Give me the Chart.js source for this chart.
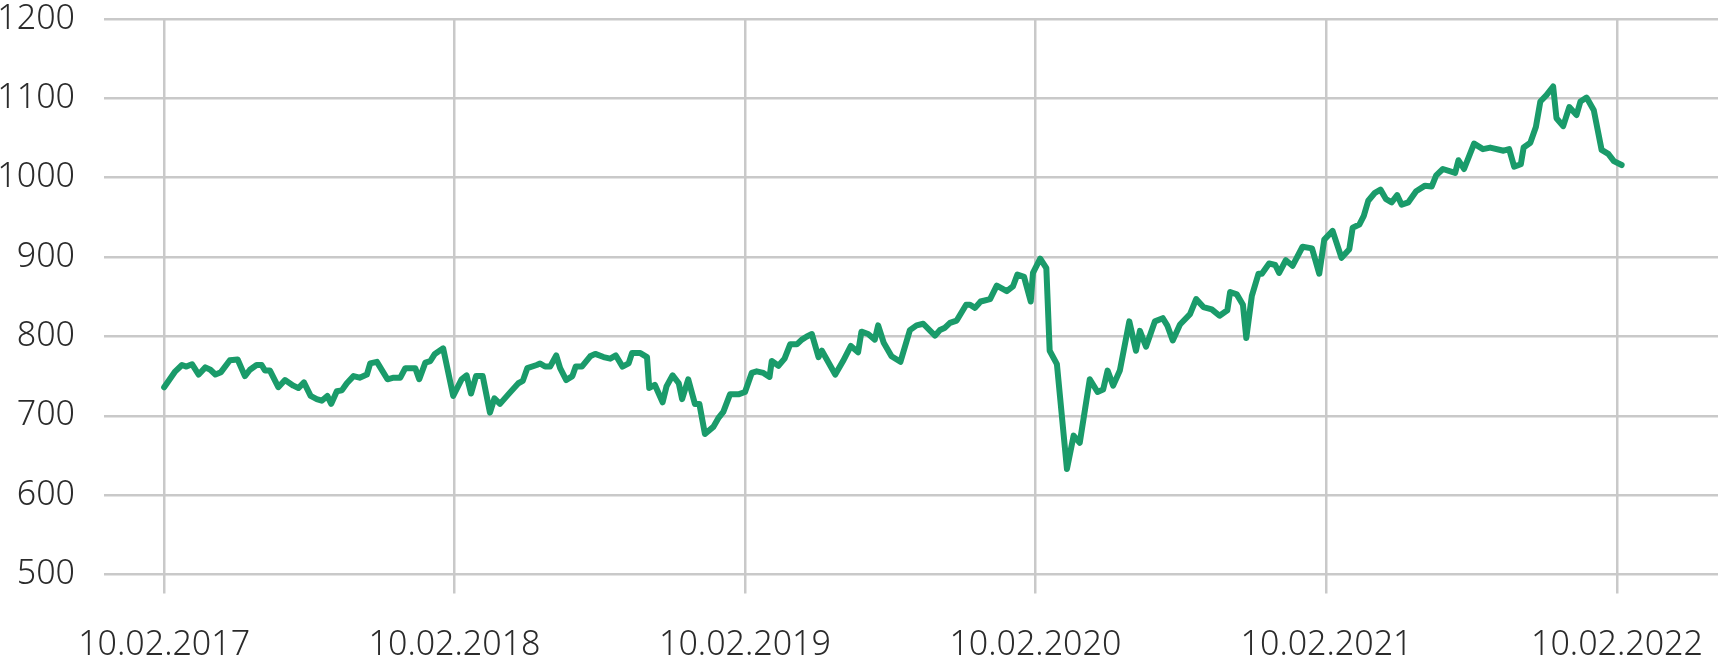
<!DOCTYPE html>
<html>
<head>
<meta charset="utf-8">
<script src="https://cdn.jsdelivr.net/npm/chart.js@4.4.0/dist/chart.umd.min.js"></script>
<style>
  html, body { margin: 0; padding: 0; background: #fff; }
  #wrap { width: 1718px; height: 658px; position: relative; }
</style>
</head>
<body>
<div id="wrap"><canvas id="priceChart"></canvas></div>
<script>
// weeks since 10.02.2017
const weeks = [
  0, 2, 3.2, 4, 5, 6.2, 7.4, 8.3, 9.2, 10.2, 11.8, 13.2, 14.5, 15.4, 16.6, 17.5, 18.1, 19, 20.5, 21.7,
  23.2, 24.1, 25.1, 26.3, 27.4, 28.3, 29.3, 30, 31, 31.9, 32.8, 34, 35.1, 36.4, 37, 38.2, 40.1, 41.2, 42.4, 43.3,
  45.1, 45.8, 46.9, 47.8, 48.6, 50.1,
  51.9, 53.4, 54.3, 55.1, 56, 57.2, 58.5, 59.3, 60.3, 61.8, 63.6, 64.4, 65.2, 66.9, 67.5, 68.4, 69.3, 70.4, 71.1, 72.2,
  73.3, 73.9, 75, 76.5, 77.4, 78.9, 80.1, 81.1, 82.3, 83.4, 84, 85.5, 86.7, 87.1, 88.1, 89.5, 90.2, 91.3, 92.4, 93,
  94.1, 95.3, 96.1, 97.1, 98.6, 99.5, 100.4, 101.6, 103.1, 104.3,
  105.5, 106.4, 107.6, 108.7, 109.1, 110.3, 111.4, 112.4, 113.6, 114.5, 115.4, 116.3, 117.5, 118.1, 120.5, 121.9,
  123.3, 124.6, 125.2, 126.4, 127.6, 128.2, 129.2, 130.6, 132.2, 133.9, 135.1, 136.3, 138.4, 139.3, 140.2, 141.1,
  142.3, 144, 144.7, 145.6, 146.6, 148.3, 149.5, 151.3, 152.4, 153.2, 154.4, 155.6, 156, 157.3, 158.4,
  159, 160.3, 162.1, 163.3, 164.4, 166.2, 167.6, 168.6, 169.4, 170.4, 171.6, 173.3, 174.5, 175.2, 176.3, 177.9,
  179.3, 180.1, 181.1, 182.4, 184.2, 185.3, 186.6, 188.1, 189.5, 190.9, 191.4, 192.6, 193.7, 194.3, 195.3, 196.5,
  197.1, 198.4, 199.5, 200.2, 201.4, 202.6, 204.4, 206.1, 207.4,
  208.3, 209.8, 211.4, 212.8, 213.4, 214.6, 215.4, 216.2, 217.4, 218.4, 219.4, 220.4, 221.4, 222.2, 223.4, 224.8,
  226.4, 227.6, 228.4, 229.6, 231.8, 232.4, 233.4, 235.2, 236.8, 238.1, 240.5, 241.5, 242.4, 243.6, 244.1, 245.3,
  246.3, 247.1, 248.2, 249.4, 250, 251.2, 252.3, 253.6, 254.3, 255.4, 256.7, 258.1, 259.3, 260.3, 261.7
];
const values = [
  736, 756, 764, 762, 765, 752, 761, 758, 752, 755, 770, 771, 750, 758, 764, 764, 757, 757, 736, 745,
  738, 735, 742, 725, 721, 719, 725, 715, 731, 732, 741, 750, 748, 752, 766, 768, 746, 748, 748, 760,
  760, 746, 767, 769, 778, 785,
  725, 746, 751, 728, 750, 750, 704, 722, 715, 727, 741, 744, 760, 764, 766, 762, 762, 776, 760, 745,
  750, 762, 762, 775, 778, 774, 772, 776, 762, 766, 779, 779, 774, 735, 739, 717, 737, 751, 741, 721,
  746, 715, 715, 677, 686, 697, 705, 727, 727, 730,
  754, 756, 754, 749, 769, 763, 772, 790, 790, 796, 800, 803, 774, 782, 752, 769,
  788, 780, 806, 803, 796, 814, 792, 775, 768, 808, 814, 816, 801, 808, 811, 817,
  820, 840, 840, 836, 844, 847, 864, 857, 863, 878, 875, 844, 880, 898, 886,
  782, 765, 633, 675, 666, 746, 730, 733, 757, 738, 757, 819, 782, 807, 787, 819,
  823, 814, 795, 815, 828, 847, 837, 834, 826, 833, 856, 853, 840, 798, 851, 879,
  879, 892, 890, 880, 896, 889, 913, 911, 879,
  922, 933, 899, 910, 937, 941, 952, 971, 981, 985, 973, 969, 978, 966, 969, 983,
  990, 989, 1003, 1011, 1006, 1022, 1011, 1043, 1036, 1038, 1034, 1036, 1014, 1017, 1038, 1044,
  1064, 1096, 1104, 1115, 1075, 1065, 1089, 1079, 1096, 1101, 1085, 1035, 1030, 1021, 1016
];
const tickWeeks = [0, 52.14, 104.29, 156.43, 208.71, 260.86];
const tickLabels = ['10.02.2017', '10.02.2018', '10.02.2019', '10.02.2020', '10.02.2021', '10.02.2022'];

const lineColor = '#1a9b6a';
const gridColor = '#c9c9c9';
const textColor = '#2b2b2b';
const font = { family: "'Noto Sans', sans-serif", size: 34, weight: '300' };

const points = weeks.map((w, i) => ({ x: w, y: values[i] }));

new Chart(document.getElementById('priceChart'), {
  type: 'line',
  data: {
    datasets: [{
      data: points,
      borderColor: lineColor,
      borderWidth: 6,
      pointRadius: 0,
      tension: 0,
      borderJoinStyle: 'round',
      borderCapStyle: 'round'
    }]
  },
  options: {
    responsive: true,
    maintainAspectRatio: false,
    animation: false,
    layout: { padding: { top: 19, right: 0, left: 0, bottom: 0 } },
    plugins: { legend: { display: false }, tooltip: { enabled: false } },
    scales: {
      x: {
        type: 'linear',
        min: -10.8,
        max: 279,
        afterBuildTicks: (scale) => {
          scale.ticks = tickWeeks.map(v => ({ value: v }));
        },
        afterFit: (scale) => {
          scale.height = 83.5;
          scale.paddingLeft = 0;
          scale.paddingRight = 0;
        },
        border: { display: false },
        grid: { color: gridColor, lineWidth: 2.5, tickLength: 19, drawTicks: true },
        ticks: {
          autoSkip: false,
          maxRotation: 0,
          color: textColor,
          font: font,
          padding: 31,
          callback: (value, index) => tickLabels[index]
        }
      },
      y: {
        min: 500,
        max: 1200,
        afterFit: (scale) => {
          scale.width = 104;
          scale.paddingTop = 0;
          scale.paddingBottom = 0;
        },
        border: { display: false },
        grid: { color: gridColor, lineWidth: 2.5, drawTicks: false },
        ticks: {
          stepSize: 100,
          color: textColor,
          font: font,
          padding: 29,
          callback: (value) => String(value)
        }
      }
    }
  }
});
</script>
</body>
</html>
